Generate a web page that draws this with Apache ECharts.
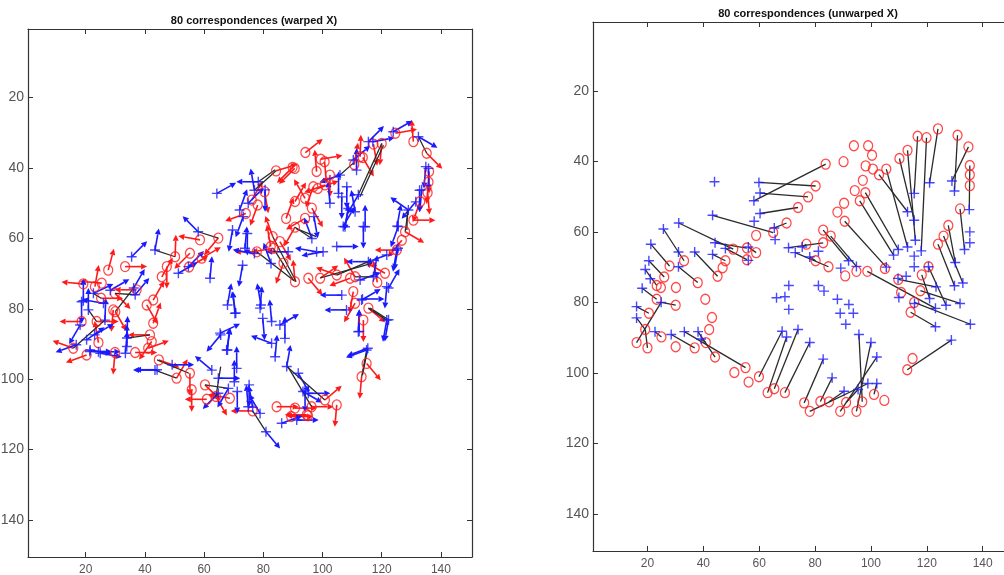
<!DOCTYPE html>
<html>
<head>
<meta charset="utf-8">
<script src="https://cdn.jsdelivr.net/npm/echarts@6/dist/echarts.min.js"></script>
<style>
  html, body { margin: 0; padding: 0; background: #fff; }
  #chart { width: 1004px; height: 575px; }
</style>
</head>
<body>
<div id="chart"></div>
<script>
// tick labels (both panels)
var xTicks = [20, 40, 60, 80, 100, 120, 140]
var yTicks = [20, 40, 60, 80, 100, 120, 140]

// left panel: warped X (red o) and Y (blue +), each with its tangent angle in degrees
var warpedCircles = [
  [94.2,35.6,38],[84.3,40.8,17],[90.6,40.1,225],[98.0,41.0,95],[99.4,37.5,10],[100.7,38.2,275],
  [102.5,42.0,270],[100.8,44.8,200],[96.9,45.3,250],[94.1,48.6,120],[90.7,49.5,60],[96.4,51.4,300],
  [94.1,54.3,210],[87.7,54.3,70],[90.7,56.8,240],[85.6,60.9,300],[83.2,59.5,110],[83.4,62.8,190],
  [77.8,63.8,180],[82.5,62.3,100],[86.8,67.0,250],[80.4,46.7,280],[78.1,50.5,250],[74.1,52.9,200],
  [76.1,49.1,60],[110.7,39.0,80],[113.6,37.0,300],[112.7,36.8,88],[117.2,33.2,280],[120.0,33.0,265],
  [124.6,30.1,10],[130.7,32.5,95],[135.2,35.8,-45],[136.0,41.0,270],[135.8,44.0,265],[135.5,47.0,275],
  [133.0,49.5,250],[130.7,54.8,0],[127.9,58.1,-30],[126.8,60.5,230],[125.1,63.3,180],[121.1,69.9,150],
  [118.5,72.5,100],[111.0,70.9,120],[109.3,71.3,200],[110.4,75.1,260],[111.0,78.4,240],[115.5,79.8,-40],
  [113.8,83.2,270],[95.2,71.3,-50],[99.2,71.3,35],[104.8,70.4,160],[90.7,72.3,95],[98.4,45.8,20],
  [58.6,60.4,170],[64.8,59.9,230],[50.2,65.2,88],[55.2,64.2,225],[59.2,65.6,30],[47.4,68.0,270],
  [45.7,70.9,60],[42.8,77.5,60],[40.6,78.9,300],[37.2,74.6,180],[29.9,75.6,-45],[33.3,68.0,0],
  [27.6,69.0,75],[25.4,72.7,175],[23.1,73.7,80],[19.2,72.9,175],[29.3,80.3,265],[24.3,89.6,100],
  [20.3,93.1,200],[15.8,91.2,160],[18.6,83.6,180],[23.7,83.6,0],[30.0,80.8,-60],[25.2,77.0,0],
  [42.8,84.1,70],[41.7,87.4,180],[42.3,89.3,235],[29.9,92.4,265],[36.7,92.4,0],[41.1,91.2,20],
  [44.7,94.5,-20],[50.7,99.7,60],[55.2,98.3,270],[55.8,103.0,270],[60.3,101.6,-45],[60.9,105.7,180],
  [64.0,104.9,300],[68.7,105.4,170],[76.4,109.0,180],[84.5,107.8,0],[90.7,108.2,0],[94.7,110.1,180],
  [96.3,107.8,0],[100.8,105.9,40],[104.8,107.3,265],[113.2,99.3,265],[114.9,95.5,-50],[89.9,39.8,225],
  [54.9,68.1,30],[89.4,110.6,0],[95.1,110.4,180]
]
var warpedPluses = [
  [64.3,47.2,29],[78.3,43.9,180],[80.6,46.2,270],[77.0,46.3,100],[72.0,51.9,70],[74.9,50.0,45],
  [73.2,53.8,250],[73.8,62.8,85],[74.6,58.6,270],[69.6,57.6,260],[58.0,58.1,135],[43.4,63.3,80],
  [35.5,65.2,45],[51.3,69.9,30],[54.7,68.0,45],[62.0,71.3,85],[36.7,76.0,50],[22.6,75.6,25],
  [26.0,78.4,170],[18.6,78.0,270],[20.9,80.3,90],[26.5,83.2,88],[20.3,88.8,35],[18.1,84.6,240],
  [21.5,91.7,-10],[24.3,92.2,0],[70.4,81.3,95],[65.4,86.9,25],[67.6,91.7,80],[33.9,90.7,90],
  [43.4,97.4,180],[62.6,97.4,140],[64.8,99.7,0],[68.2,102.6,240],[71.0,96.9,90],[64.8,104.0,225],
  [74.9,107.8,95],[105.9,42.0,200],[105.4,47.2,90],[108.2,45.3,270],[112.1,47.6,240],[111.0,52.4,100],
  [107.0,56.6,60],[113.8,56.6,270],[110.4,37.7,40],[115.5,32.5,45],[123.9,29.7,30],[132.4,31.1,-30],
  [135.8,40.1,270],[133.5,46.2,265],[129.0,51.9,145],[125.6,56.6,250],[125.1,63.3,260],[121.7,64.7,200],
  [115.5,66.6,180],[117.2,70.9,80],[112.7,71.8,20],[121.7,73.7,265],[106.5,76.1,180],[113.2,77.5,30],
  [121.7,83.2,260],[112.1,86.5,88],[114.9,91.7,200],[98.0,63.8,170],[104.8,62.3,0],[96.4,60.0,110],
  [88.4,63.8,180],[102.5,50.0,95],[97.1,53.8,280],[100.2,63.8,190],[77.0,64.3,170],[73.0,67.6,260],
  [82.6,67.1,110],[78.9,79.8,85],[79.8,82.7,275],[82.8,83.6,95],[85.6,84.6,30],[82.8,89.8,160],
  [84.0,93.6,85],[87.3,88.4,90],[87.9,96.4,80],[91.8,98.3,-60],[94.1,103.1,270],[95.2,104.0,0],
  [78.9,109.7,120],[80.9,114.9,-50],[86.2,112.5,20],[91.3,111.6,0],[67.9,78.9,80],[70.7,81.2,100],
  [65.6,87.4,230],[67.9,91.7,85],[70.2,100.7,90],[71.2,103.5,270],[75.2,101.6,270],[76.4,108.0,100],
  [79.2,78.9,100],[93.4,103.5,-30],[108.1,80.3,180],[113.5,77.2,0],[122.3,74.1,60],[122.3,83.1,260],
  [112.4,86.4,90],[115.3,91.2,200],[19.2,77.7,90],[23.0,87.4,30],[16.8,90.2,200],[21.4,92.1,0],
  [24.9,92.6,-10],[33.4,92.6,85],[44.1,97.3,180],[49.2,95.9,0],[33.9,88.3,88],[36.2,74.1,60],
  [28.3,74.7,30],[131.5,49.6,230],[125.2,56.5,80],[125.5,62.8,260],[107.6,56.7,80],[114.4,56.7,90],
  [108.7,51.5,260],[106.5,48.2,270],[111.5,40.6,90],[117.0,32.5,10],[134.9,39.6,265],[132.8,46.3,270]
]
// matched pairs in the left panel: [x of o, y of o, x of +, y of +]
var warpedMatches = [
  [120.0,33.0,112.1,47.6],[110.4,38.6,105.9,42.0],[90.7,56.8,96.4,60.0],[83.4,62.8,90.1,71.8],
  [77.8,63.8,90.4,72.0],[104.8,70.4,115.5,66.6],[111.0,70.9,117.2,70.9],[115.5,79.8,121.7,83.2],
  [113.2,99.3,114.9,91.7],[127.9,58.1,129.0,51.9],[135.2,35.8,132.4,31.1],[100.8,105.9,87.9,96.4],
  [84.0,40.5,78.3,43.9],[50.2,65.2,43.4,63.3],[64.8,59.9,58.0,58.1],[29.9,75.6,36.7,76.0],
  [15.8,91.2,26.5,83.2],[50.7,99.7,43.4,97.4],[60.3,101.6,68.2,102.6],[84.3,40.8,77.0,46.3],
  [91.1,57.2,97.9,59.5],[99.3,71.2,116.6,67.1],[120.6,33.5,112.6,48.2],[128.5,57.6,128.7,51.9],
  [116.1,79.8,122.3,83.1],[113.5,98.8,115.3,91.2],[54.9,98.3,44.1,94.5],[30.0,80.8,36.2,74.1],
  [83.2,59.5,91.1,72.3],[64.0,104.9,65.6,96.4],[96.3,107.8,88.3,96.4],[76.4,109.0,80.9,114.9],
  [23.7,83.6,20.9,80.3],[25.2,77.0,22.6,75.6],[41.7,87.4,33.9,88.3]
]

// right panel: unwarped X (red o), Y (blue +)
var unwarpedCircles = [
  [83.8,40.8],[90.2,40.1],[93.9,35.6],[99.0,35.6],[100.4,38.3],[98.1,41.3],[100.7,42.2],[102.9,43.8],
  [105.5,42.2],[110.2,39.2],[113.1,36.9],[116.7,32.9],[119.9,33.3],[124.0,30.8],[131.0,32.6],[134.9,35.9],
  [135.4,41.2],[135.4,43.8],[135.4,46.9],[131.9,53.5],[127.7,58.2],[126.0,61.2],[124.0,63.5],[97.1,45.4],
  [94.2,48.3],[98.0,48.9],[96.0,51.2],[90.4,51.9],[88.0,54.4],[90.6,57.0],[82.9,59.5],[85.6,61.2],
  [82.9,63.1],[84.8,69.9],[90.8,72.5],[94.8,71.2],[98.7,71.2],[105.0,70.4],[109.8,73.5],[118.2,72.2],
  [120.6,69.9],[80.2,47.0],[77.5,50.1],[73.9,53.1],[69.8,57.5],[65.0,60.2],[58.9,61.0],[58.9,65.9],
  [55.6,64.6],[55.6,67.9],[50.7,64.9],[47.9,68.2],[46.9,70.2],[45.1,72.6],[76.9,63.5],[80.2,68.2],
  [38.0,74.4],[33.1,68.2],[27.9,69.7],[26.0,72.8],[30.2,75.8],[23.3,75.2],[24.8,75.8],[40.7,79.1],
  [23.3,79.1],[20.5,83.1],[30.1,80.8],[43.1,84.3],[42.1,87.7],[19.2,87.7],[16.1,91.4],[20.0,92.9],
  [25.0,89.8],[30.1,92.6],[36.9,92.9],[40.9,91.4],[44.2,95.5],[55.1,98.5],[51.1,99.9],[56.2,102.6],
  [59.9,101.1],[63.0,105.6],[65.4,104.5],[69.2,105.6],[76.1,108.5],[78.1,110.9],[81.9,108.1],[85.0,108.2],
  [89.0,110.9],[91.1,108.4],[94.8,110.9],[96.9,108.2],[101.1,106.1],[104.8,107.8],[113.0,99.1],[114.9,95.9],
  [114.2,82.8],[115.5,80.0],[110.8,77.2],[117.7,76.7]
]
var unwarpedPluses = [
  [44.0,45.8],[59.9,46.0],[60.3,49.0],[58.1,51.2],[60.3,54.8],[43.3,55.3],[58.2,57.0],[65.4,58.9],
  [65.7,62.2],[25.7,59.2],[31.2,57.5],[21.2,63.5],[20.5,68.2],[19.2,70.7],[21.0,73.3],[18.1,76.0],
  [31.1,65.7],[31.1,69.9],[36.9,65.7],[43.3,66.4],[44.2,63.1],[47.9,64.7],[56.1,64.3],[56.1,68.1],
  [70.5,64.5],[72.9,65.9],[75.4,64.3],[78.1,67.1],[81.2,65.5],[70.6,75.2],[81.2,75.2],[89.2,70.3],
  [92.0,68.2],[94.8,69.8],[105.5,70.0],[108.1,66.6],[109.8,65.0],[113.1,64.3],[115.5,66.9],[115.5,69.9],
  [118.0,65.4],[120.6,69.9],[113.1,54.3],[115.5,56.7],[115.9,62.4],[115.5,49.1],[121.0,46.1],[129.0,45.6],
  [129.9,48.4],[135.2,53.7],[135.4,60.0],[135.4,63.1],[133.5,65.0],[130.2,68.7],[132.9,74.5],[129.9,75.3],
  [109.7,73.2],[112.6,72.6],[123.3,75.6],[16.1,81.2],[16.1,84.4],[22.7,88.3],[24.9,80.0],[28.5,89.1],
  [33.2,88.3],[38.1,88.3],[39.2,90.4],[66.2,78.7],[69.2,78.4],[70.6,82.0],[68.2,88.2],[69.8,89.8],
  [73.9,87.7],[78.1,91.4],[83.2,76.8],[88.0,79.1],[92.1,80.6],[89.0,83.1],[93.7,83.1],[91.0,86.2],
  [95.7,89.1],[100.0,91.4],[102.1,95.5],[82.9,96.1],[86.1,101.4],[90.4,105.2],[95.4,104.7],[98.9,103.0],
  [102.1,103.0],[110.0,78.6],[115.6,80.3],[121.0,78.9],[123.1,81.7],[126.9,80.8],[131.9,80.3],[135.6,86.2],
  [123.1,86.9],[128.8,90.7]
]
var unwarpedMatches = [
  [83.8,40.8,58.1,51.2],[80.2,47.0,59.9,46.0],[77.5,50.1,60.3,49.0],[73.9,53.1,60.3,54.8],
  [69.8,57.5,65.4,58.9],[65.0,60.2,43.3,55.3],[50.7,64.9,31.2,57.5],[55.6,64.6,44.2,63.1],
  [47.9,68.2,43.3,66.4],[55.6,67.9,47.9,64.7],[58.9,65.9,56.1,64.3],[33.1,68.2,25.7,59.2],
  [27.9,69.7,21.2,63.5],[26.0,72.8,20.5,68.2],[38.0,74.4,31.1,69.9],[45.1,72.6,36.9,65.7],
  [23.3,75.2,19.2,70.7],[82.9,63.1,70.5,64.5],[84.8,69.9,72.9,65.9],[76.9,63.5,75.4,64.3],
  [80.2,68.2,78.1,67.1],[82.9,59.5,92.0,68.2],[85.6,61.2,94.8,69.8],[90.6,57.0,105.5,70.0],
  [96.0,51.2,108.1,66.6],[98.0,48.9,109.8,65.0],[102.9,43.8,113.1,54.3],[105.5,42.2,113.1,64.3],
  [110.2,39.2,115.5,56.7],[113.1,36.9,115.9,62.4],[116.7,32.9,115.5,49.1],[119.9,33.3,118.0,65.4],
  [124.0,30.8,121.0,46.1],[131.0,32.6,129.9,48.4],[134.9,35.9,129.0,45.6],[135.4,41.2,135.2,53.7],
  [131.9,53.5,133.5,65.0],[127.7,58.2,130.2,68.7],[126.0,61.2,132.9,74.5],[124.0,63.5,129.9,75.3],
  [109.8,73.5,123.3,75.6],[98.7,71.2,123.1,81.7],[117.7,76.7,131.9,80.3],[115.5,80.0,135.6,86.2],
  [114.2,82.8,123.1,86.9],[113.0,99.1,128.8,90.7],[118.2,72.2,121.0,78.9],[120.6,69.9,126.9,80.8],
  [23.3,79.1,18.1,76.0],[30.1,80.8,24.9,80.0],[20.5,83.1,16.1,81.2],[19.2,87.7,16.1,84.4],
  [20.0,92.9,19.2,87.7],[25.0,89.8,22.7,88.3],[36.9,92.9,28.5,89.1],[55.1,98.5,33.2,88.3],
  [44.2,95.5,38.1,88.3],[40.9,91.4,39.2,90.4],[16.1,91.4,24.9,80.0],[59.9,101.1,68.2,88.2],
  [63.0,105.6,69.8,89.8],[65.4,104.5,73.9,87.7],[69.2,105.6,78.1,91.4],[76.1,108.5,82.9,96.1],
  [78.1,110.9,98.9,103.0],[81.9,108.1,86.1,101.4],[85.0,108.2,90.4,105.2],[89.0,110.9,102.1,95.5],
  [91.1,108.4,95.4,104.7],[94.8,110.9,100.0,91.4],[96.9,108.2,95.7,89.1],[101.1,106.1,102.1,103.0]
]

var RED = '#ff1a1a'
var BLUE = '#1a1aff'
var PLUS = 'path://M5,0L5,10M0,5L10,5'
var FONT = 'Liberation Sans, Arial, sans-serif'

function quiver(color) {
  return function(params, api) {
    var p = api.coord([api.value(0), api.value(1)])
    var a = api.value(2) * Math.PI / 180
    var ux = Math.cos(a)
    var uy = -Math.sin(a)
    var len = 22
    var head = 6
    var half = 3
    var ex = p[0] + len * ux
    var ey = p[1] + len * uy
    var bx = ex - head * ux
    var by = ey - head * uy
    return {
      type: 'group',
      children: [
        { type: 'line', shape: { x1: p[0], y1: p[1], x2: bx, y2: by }, style: { stroke: color, lineWidth: 1.6 } },
        { type: 'polygon', shape: { points: [[ex, ey], [bx - half * uy, by + half * ux], [bx + half * uy, by - half * ux]] }, style: { fill: color } }
      ]
    }
  }
}

function segment(params, api) {
  var a = api.coord([api.value(0), api.value(1)])
  var b = api.coord([api.value(2), api.value(3)])
  return { type: 'line', shape: { x1: a[0], y1: a[1], x2: b[0], y2: b[1] }, style: { stroke: '#2a2a2a', lineWidth: 1.3 } }
}

function xAxis(grid, pos) {
  return {
    type: 'value', gridIndex: grid, position: pos, min: 0.5, max: 150.5,
    splitLine: { show: false },
    axisLine: { show: true, onZero: false, lineStyle: { color: '#333', width: 1.2 } },
    axisTick: { show: true, inside: true, length: 5, customValues: xTicks, lineStyle: { color: '#333' } },
    axisLabel: { show: pos === 'bottom', customValues: xTicks, color: '#555', fontSize: 12, fontFamily: FONT, margin: 7 }
  }
}
function yAxis(grid, pos) {
  return {
    type: 'value', gridIndex: grid, position: pos, min: 0.5, max: 150.5, inverse: true,
    splitLine: { show: false },
    axisLine: { show: true, onZero: false, lineStyle: { color: '#333', width: 1.2 } },
    axisTick: { show: true, inside: true, length: 5, customValues: yTicks, lineStyle: { color: '#333' } },
    axisLabel: { show: pos === 'left', customValues: yTicks, color: '#555', fontSize: 14, fontFamily: FONT, margin: 4 }
  }
}

var chart = echarts.init(document.getElementById('chart'))
chart.setOption({
  backgroundColor: '#fff',
  animation: false,
  title: [
    { text: '80 correspondences (warped X)', left: 249, top: 10, textAlign: 'center',
      textStyle: { fontSize: 11, fontWeight: 'bold', fontFamily: FONT, color: '#111' } },
    { text: '80 correspondences (unwarped X)', left: 803, top: 3, textAlign: 'center',
      textStyle: { fontSize: 11, fontWeight: 'bold', fontFamily: FONT, color: '#111' } }
  ],
  grid: [
    { left: 28, top: 29, width: 444, height: 528, outerBoundsMode: 'none' },
    { left: 593, top: 22, width: 419, height: 529, outerBoundsMode: 'none' }
  ],
  xAxis: [xAxis(0, 'bottom'), xAxis(0, 'top'), xAxis(1, 'bottom'), xAxis(1, 'top')],
  yAxis: [yAxis(0, 'left'), yAxis(0, 'right'), yAxis(1, 'left'), yAxis(1, 'right')],
  series: [
    { type: 'custom', xAxisIndex: 0, yAxisIndex: 0, data: warpedCircles, encode: { x: 0, y: 1 }, renderItem: quiver(RED) },
    { type: 'custom', xAxisIndex: 0, yAxisIndex: 0, data: warpedPluses, encode: { x: 0, y: 1 }, renderItem: quiver(BLUE) },
    { type: 'scatter', xAxisIndex: 0, yAxisIndex: 0, data: warpedCircles, symbol: 'circle', symbolSize: [9, 10],
      itemStyle: { color: 'rgba(0,0,0,0)', borderColor: RED, borderWidth: 1.3 } },
    { type: 'scatter', xAxisIndex: 0, yAxisIndex: 0, data: warpedPluses, symbol: PLUS, symbolSize: 10,
      itemStyle: { color: 'rgba(0,0,0,0)', borderColor: BLUE, borderWidth: 1.4 } },
    { type: 'custom', xAxisIndex: 0, yAxisIndex: 0, data: warpedMatches, encode: { x: [0, 2], y: [1, 3] }, renderItem: segment },

    { type: 'scatter', xAxisIndex: 2, yAxisIndex: 2, data: unwarpedCircles, symbol: 'circle', symbolSize: [9, 10],
      itemStyle: { color: 'rgba(0,0,0,0)', borderColor: RED, borderWidth: 1.3 } },
    { type: 'scatter', xAxisIndex: 2, yAxisIndex: 2, data: unwarpedPluses, symbol: PLUS, symbolSize: 10,
      itemStyle: { color: 'rgba(0,0,0,0)', borderColor: BLUE, borderWidth: 1.4 } },
    { type: 'custom', xAxisIndex: 2, yAxisIndex: 2, data: unwarpedMatches, encode: { x: [0, 2], y: [1, 3] }, renderItem: segment }
  ]
})
</script>
</body>
</html>
